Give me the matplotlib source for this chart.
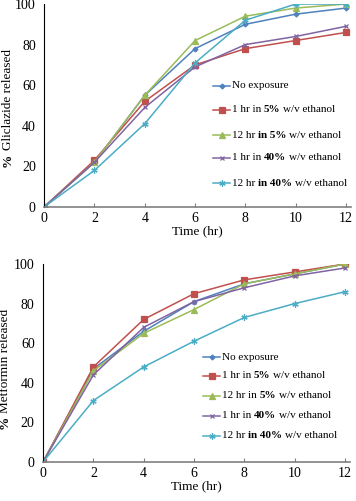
import matplotlib
matplotlib.use("Agg")
import matplotlib.pyplot as plt
from matplotlib.lines import Line2D
from matplotlib.offsetbox import AnchoredOffsetbox, HPacker, TextArea, DrawingArea
from matplotlib.transforms import offset_copy

plt.rcParams['font.family'] = ['Liberation Serif', 'DejaVu Serif']
plt.rcParams['font.size'] = 10

time = [0, 2, 4, 6, 8, 10, 12]

# Gliclazide release (%)
gli_none = [0, 22, 55, 78, 90, 95, 98]
gli_1h_5 = [0, 23, 52, 70, 78, 82, 86]
gli_12h_5 = [0, 22, 55, 82, 94, 98, 100]
gli_1h_40 = [0, 22, 49, 69, 80, 84, 89]
gli_12h_40 = [0, 18, 41, 71, 92, 100, 100]

# Metformin release (%)
met_none = [0, 47, 66, 81, 90, 95, 100]
met_1h_5 = [0, 48, 72, 85, 92, 96, 100]
met_12h_5 = [0, 46, 65, 77, 90, 95, 100]
met_1h_40 = [0, 44, 68, 81, 88, 94, 98]
met_12h_40 = [0, 31, 48, 61, 73, 80, 86]

# legend labels as (text, bold) pieces, split at spaces
labels_top = [[('No exposure', False)],
              [('1 hr in', False), ('5%', True), ('w/v ethanol', False)],
              [('12 hr', False), ('in 5%', True), ('w/v ethanol', False)],
              [('1 hr in', False), ('40%', True), ('w/v ethanol', False)],
              [('12 hr', False), ('in 40%', True), ('w/v ethanol', False)]]
labels_bot = [[('No exposure', False)],
              [('1 hr in', False), ('5%', True), ('w/v ethanol', False)],
              [('12 hr in', False), ('5%', True), ('w/v ethanol', False)],
              [('1 hr in', False), ('40%', True), ('w/v ethanol', False)],
              [('12 hr', False), ('in 40%', True), ('w/v ethanol', False)]]

colors = ['#4F81BD', '#C0504D', '#9BBB59', '#8064A2', '#4BACC6']
markers = ['D', 's', '^', 'x', (6, 2, 0)]
msizes = [2.5, 4, 4, 3.5, 4.5]


def legend_row(fig, x, y, color, marker, ms, pieces):
    da = DrawingArea(12.5, 8, 0, 0)
    da.add_artist(Line2D([0, 12.5], [4, 4], color=color, lw=1.1))
    da.add_artist(Line2D([6.25], [4], color=color, marker=marker, ms=ms,
                         markeredgewidth=0.9, ls='none'))
    texts = [TextArea(s, textprops=dict(fontsize=8,
                                        fontweight='bold' if b else 'normal'))
             for s, b in pieces]
    words = HPacker(children=texts, align='baseline', pad=0, sep=2)
    row = HPacker(children=[da, words], align='center', pad=0, sep=1)
    box = AnchoredOffsetbox(loc='center left', child=row, pad=0, borderpad=0,
                            frameon=False, bbox_to_anchor=(x, y),
                            bbox_transform=fig.transFigure)
    fig.add_artist(box)


def draw(fig, ax, series, labels, name, ylab_x, ylab_split, leg_x, leg_ys):
    for y, c, m, ms in zip(series, colors, markers, msizes):
        ax.plot(time, y, color=c, marker=m, markersize=ms, lw=1.1,
                markeredgewidth=0.9)
    ax.set_xlim(0, 12.2)
    ax.set_ylim(0, 100)
    ax.set_xticks(range(0, 13, 2))
    ax.set_yticks(range(0, 101, 20))
    ax.spines['top'].set_visible(False)
    ax.spines['right'].set_visible(False)
    ax.spines['bottom'].set_color('#808080')
    ax.spines['bottom'].set_linewidth(1.2)
    ax.spines['left'].set_linewidth(0.8)
    ax.tick_params(axis='x', direction='in', length=3, color='#808080', pad=4)
    ax.tick_params(axis='y', length=0, pad=6)
    ax.set_xlabel('Time (hr)', labelpad=0, fontsize=9.5)

    # y label with a bold % sign
    ax.text(ylab_x, ylab_split, '%', rotation=90, fontweight='bold', fontsize=9.5,
            ha='center', va='top',
            transform=offset_copy(ax.transAxes, fig=fig, y=-1.2, units='points'))
    ax.text(ylab_x, ylab_split, name + ' released', rotation=90, fontsize=9.5,
            ha='center', va='bottom',
            transform=offset_copy(ax.transAxes, fig=fig, y=1.2, units='points'))

    for i, pieces in enumerate(labels):
        legend_row(fig, leg_x, leg_ys[i], colors[i], markers[i], msizes[i], pieces)


fig = plt.figure(figsize=(3.56, 5.01), dpi=100)
ax1 = fig.add_axes([0.124, 0.587, 0.862, 0.405])
ax2 = fig.add_axes([0.121, 0.078, 0.862, 0.395])

H = 501.0
draw(fig, ax1, [gli_none, gli_1h_5, gli_12h_5, gli_1h_40, gli_12h_40],
     labels_top, 'Gliclazide', -0.118, 0.27, 213 / 356,
     [1 - v / H for v in [86, 110, 135, 158, 183]])
draw(fig, ax2, [met_none, met_1h_5, met_12h_5, met_1h_40, met_12h_40],
     labels_bot, 'Metformin', -0.124, 0.24, 203 / 356,
     [1 - v / H for v in [357, 376, 396, 416, 436]])

fig.savefig('out.png', dpi=100)
